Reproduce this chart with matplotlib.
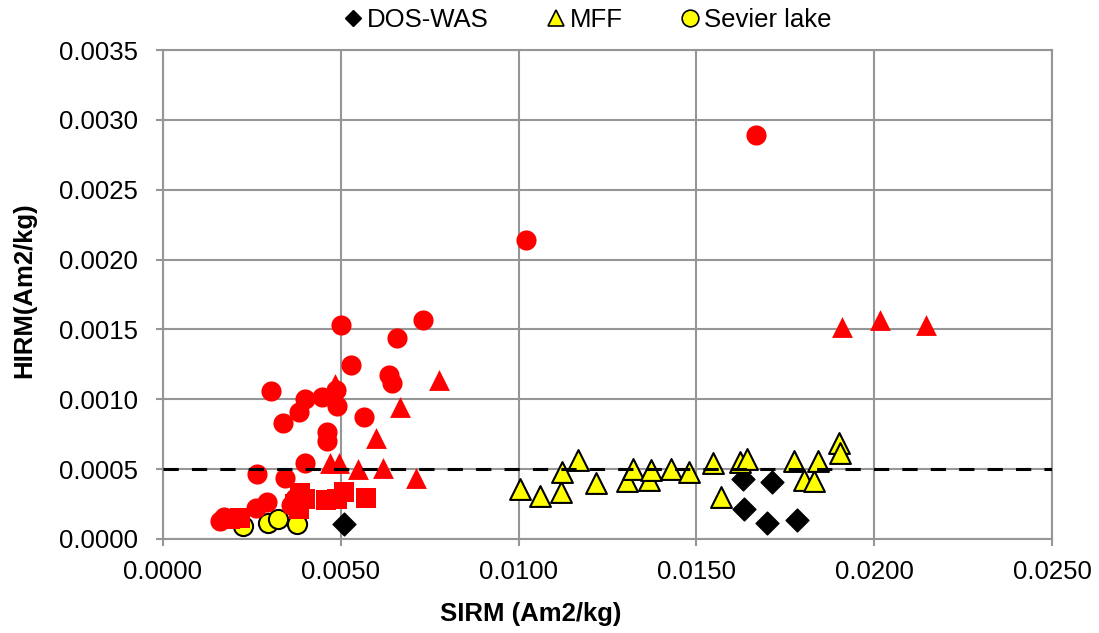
"""SIRM vs HIRM scatter for the dust / sediment sample groups."""

import matplotlib

matplotlib.use("Agg")
import matplotlib.pyplot as plt
from matplotlib.lines import Line2D
from matplotlib.ticker import FormatStrFormatter, MultipleLocator

plt.rcParams["font.family"] = ["Liberation Sans", "DejaVu Sans"]

# Legend groups
dos_was_x = [0.0051, 0.01632, 0.01712, 0.01634, 0.01699, 0.01782]
dos_was_y = [0.00011, 0.000428, 0.000409, 0.000213, 0.000113, 0.000136]

mff_x = [0.01005, 0.01059, 0.01118, 0.01123, 0.01167, 0.01219, 0.01306, 0.01322,
         0.01367, 0.01371, 0.01429, 0.01479, 0.01548, 0.01568, 0.01623, 0.01642,
         0.01775, 0.01803, 0.0183, 0.01843, 0.01901, 0.01904]
mff_y = [0.000356, 0.000308, 0.000337, 0.000476, 0.000564, 0.000402, 0.000416, 0.0005,
         0.000421, 0.000493, 0.0005, 0.000476, 0.000547, 0.000301, 0.000552, 0.000572,
         0.000555, 0.000421, 0.000416, 0.000555, 0.000684, 0.000619]

sevier_x = [0.00226, 0.00294, 0.00322, 0.00378]
sevier_y = [0.000093, 0.000117, 0.000141, 0.00011]

# Unlabelled red groups
red_circle_x = [0.00501, 0.0073, 0.00658, 0.0053, 0.00635, 0.00644, 0.00303, 0.0040,
                0.00447, 0.00487, 0.00489, 0.00383, 0.00337, 0.00566, 0.00462, 0.00462,
                0.0040, 0.00264, 0.00342, 0.00292, 0.00261, 0.00172, 0.0016, 0.0036,
                0.0037, 0.01668, 0.0102]
red_circle_y = [0.001533, 0.001569, 0.00144, 0.001246, 0.001174, 0.001117, 0.001057, 0.000999,
                0.001019, 0.001067, 0.000954, 0.000906, 0.00083, 0.00087, 0.000768, 0.000698,
                0.000547, 0.000468, 0.00044, 0.000268, 0.00022, 0.000158, 0.000129, 0.00024,
                0.00029, 0.00289, 0.00214]

red_tri_x = [0.00484, 0.00776, 0.00666, 0.00599, 0.0047, 0.00496, 0.00549, 0.00619,
             0.00712, 0.0191, 0.02017, 0.02146]
red_tri_y = [0.00111, 0.001138, 0.000942, 0.00072, 0.000547, 0.000547, 0.000504, 0.000511,
             0.00044, 0.001516, 0.001564, 0.001533]

red_sq_x = [0.00386, 0.0040, 0.00372, 0.00383, 0.00459, 0.0051, 0.00571, 0.00217,
            0.00189, 0.00489]
red_sq_y = [0.000332, 0.000285, 0.000249, 0.000213, 0.000278, 0.000337, 0.000296, 0.000153,
            0.000141, 0.000285]

HIRM_THRESHOLD = 0.0005
X_MAX = 0.025
Y_MAX = 0.0035

GRID = "#969696"
FS = 18.5

fig = plt.figure(figsize=(10.99, 6.33), dpi=100)
ax = fig.add_axes([163 / 1099, 1 - 539 / 633, (1052 - 163) / 1099, (539 - 50) / 633])

edge = dict(edgecolors="black", linewidths=1.5)
ax.scatter(dos_was_x, dos_was_y, marker="D", s=135, c="black", zorder=3)
ax.scatter(mff_x, mff_y, marker="^", s=225, c="#FFFF00", zorder=3, **edge)
ax.scatter(sevier_x, sevier_y, marker="o", s=190, c="#FFFF00", zorder=3, **edge)

ax.scatter(red_circle_x, red_circle_y, marker="o", s=210, c="#FF0000", linewidths=0, zorder=4)
ax.scatter(red_tri_x, red_tri_y, marker="^", s=225, c="#FF0000", linewidths=0, zorder=4)
ax.scatter(red_sq_x, red_sq_y, marker="s", s=190, c="#FF0000", linewidths=0, zorder=4)

ax.plot([0, X_MAX], [HIRM_THRESHOLD, HIRM_THRESHOLD], color="black", lw=2.2,
        linestyle=(0, (5, 4.3)), zorder=5)

ax.set_xlim(0, X_MAX)
ax.set_ylim(0, Y_MAX)
ax.xaxis.set_major_locator(MultipleLocator(0.005))
ax.yaxis.set_major_locator(MultipleLocator(0.0005))
ax.xaxis.set_major_formatter(FormatStrFormatter("%.4f"))
ax.yaxis.set_major_formatter(FormatStrFormatter("%.4f"))

ax.grid(True, color=GRID, lw=1.5, zorder=0)
ax.set_axisbelow(True)
for spine in ax.spines.values():
    spine.set_color(GRID)
    spine.set_linewidth(1.5)
ax.tick_params(axis="both", direction="out", length=5, width=1.5, color=GRID,
               labelsize=FS, labelcolor="black")
ax.tick_params(axis="y", pad=13)
ax.tick_params(axis="x", pad=10)

ax.set_ylabel("HIRM(Am2/kg)", fontsize=FS, fontweight="bold")
ax.yaxis.set_label_coords(-0.1424, 0.509)
fig.text(531 / 1099, 1 - 614 / 633, "SIRM (Am2/kg)", fontsize=FS, fontweight="bold",
         ha="center", va="center")

handles = [
    Line2D([], [], marker="D", ls="none", color="black", markersize=8.2),
    Line2D([], [], marker="^", ls="none", markerfacecolor="#FFFF00",
           markeredgecolor="black", markeredgewidth=1.2, markersize=12),
    Line2D([], [], marker="o", ls="none", markerfacecolor="#FFFF00",
           markeredgecolor="black", markeredgewidth=1.2, markersize=12),
]
fig.legend(handles, ["DOS-WAS", "MFF", "Sevier lake"], ncol=3, frameon=False,
           loc="center", bbox_to_anchor=(587 / 1099, 1 - 20 / 633), fontsize=FS,
           handlelength=0.8, handletextpad=0.15, columnspacing=2.2, borderpad=0)

fig.savefig("out.png", dpi=100)
